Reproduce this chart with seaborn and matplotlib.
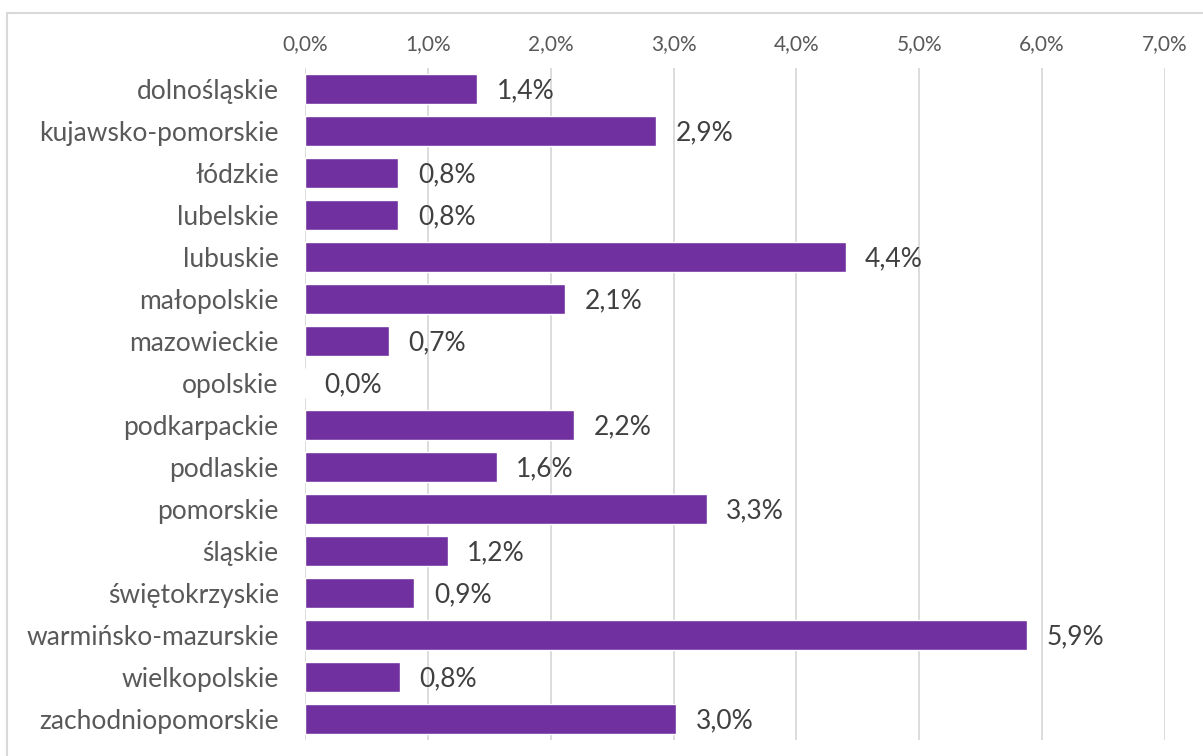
import pandas as pd
import numpy as np
import seaborn as sns
import matplotlib.pyplot as plt
import matplotlib.patches as mpatches

regions = ['dolnośląskie', 'kujawsko-pomorskie', 'łódzkie', 'lubelskie', 'lubuskie',
           'małopolskie', 'mazowieckie', 'opolskie', 'podkarpackie', 'podlaskie',
           'pomorskie', 'śląskie', 'świętokrzyskie', 'warmińsko-mazurskie',
           'wielkopolskie', 'zachodniopomorskie']
shares = [1.40, 2.86, 0.76, 0.76, 4.40, 2.12, 0.68, 0.0, 2.19, 1.56,
          3.27, 1.16, 0.89, 5.88, 0.77, 3.02]
x_ticks = [0, 1, 2, 3, 4, 5, 6, 7]

purple = '#7030A0'
grey_txt = '#595959'

sns.set_theme(style='white')
plt.rcParams['font.family'] = ['Lato', 'DejaVu Sans']

table = pd.DataFrame({'region': regions, 'share': shares})

fig = plt.figure(figsize=(12.03, 7.56), dpi=100)
ax = fig.add_axes([305 / 1203, 1 - 740 / 756, 860 / 1203, 672 / 756])

sns.barplot(data=table, x='share', y='region', orient='h', color=purple,
            width=0.7, saturation=1, ax=ax)

ax.set_xlim(0, 7)
ax.set_ylim(15.5, -0.5)
ax.set_xticks(x_ticks)
ax.set_xticklabels([f'{t:.1f}%'.replace('.', ',') for t in x_ticks])
ax.xaxis.tick_top()
ax.tick_params(axis='x', length=0, pad=10, labelsize=15, labelcolor=grey_txt)
ax.tick_params(axis='y', length=0, pad=19, labelsize=19, labelcolor=grey_txt)
ax.set_xlabel('')
ax.set_ylabel('')
ax.grid(axis='x', color='#D9D9D9', linewidth=1.3)
ax.set_axisbelow(True)
for s in ax.spines.values():
    s.set_visible(False)

for i, v in enumerate(shares):
    ax.annotate(f'{v:.1f}%'.replace('.', ','), (v, i), xytext=(14, -1),
                textcoords='offset points', va='center', ha='left',
                fontsize=19, color='#404040')

# chart border
fig.patches.append(mpatches.Rectangle((7 / 1203, -0.1), 1.1, 1 - 13 / 756 + 0.1,
                                      transform=fig.transFigure, fill=False,
                                      edgecolor='#D9D9D9', linewidth=1.5))

fig.savefig('out.png', dpi=100)
